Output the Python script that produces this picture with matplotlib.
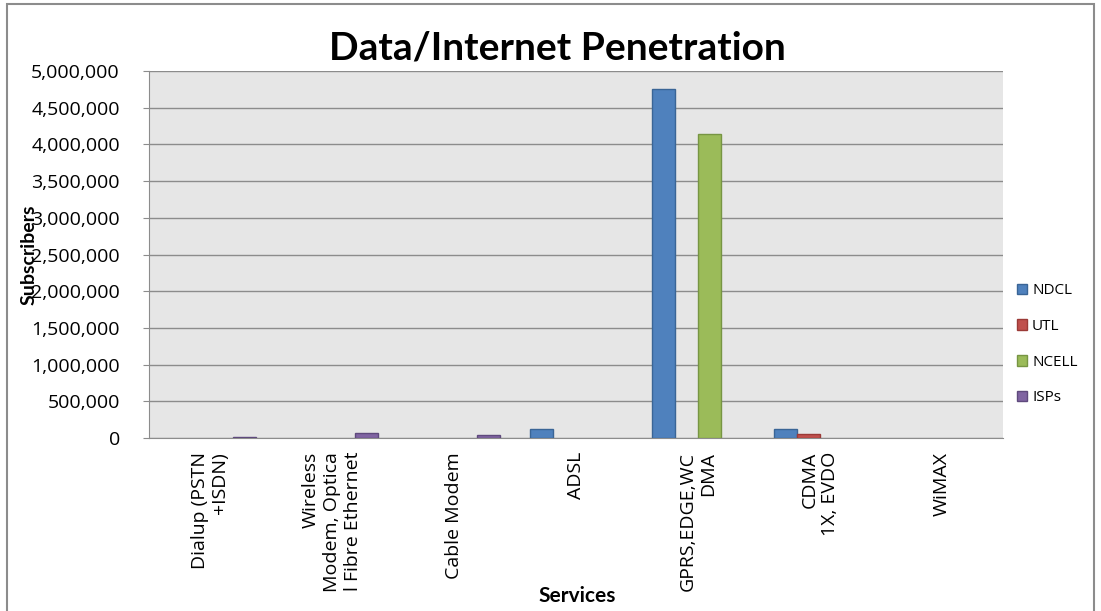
import matplotlib
matplotlib.use("Agg")
import matplotlib.pyplot as plt
import numpy as np
from matplotlib.ticker import FuncFormatter, MultipleLocator
from matplotlib.patches import Rectangle

categories = ["Dialup (PSTN\n+ISDN)", "Wireless\nModem, Optica\nl Fibre Ethernet", "Cable Modem",
              "ADSL", "GPRS,EDGE,WC\nDMA", "CDMA\n1X, EVDO", "WiMAX"]
series_names = ["NDCL", "UTL", "NCELL", "ISPs"]
ndcl = [0, 0, 0, 120000, 4755000, 120000, 0]
utl = [0, 0, 0, 0, 0, 50000, 0]
ncell = [0, 0, 0, 0, 4140000, 0, 0]
isps = [10000, 64000, 37000, 0, 0, 0, 0]
colors = ["#4F81BD", "#C0504D", "#9BBB59", "#8064A2"]
edges = ["#3A6596", "#9B3A37", "#779543", "#5F4A7D"]

plt.rcParams['font.family'] = ['Lato', 'DejaVu Sans']
fig = plt.figure(figsize=(11.01, 6.11), dpi=100)
fig.patches.append(Rectangle((0.006, -0.01), 0.988, 1.003, transform=fig.transFigure,
                             fill=False, edgecolor="#8c8c8c", linewidth=1.5))
ax = fig.add_axes([0.1353, 0.2831, 0.7757, 0.6007])
ax.set_facecolor("#e6e6e6")

x = np.arange(len(categories))
w = 0.187
data = [ndcl, utl, ncell, isps]
for i, (vals, name) in enumerate(zip(data, series_names)):
    v = np.array(vals, dtype=float)
    v[v == 0] = np.nan
    ax.bar(x + (i - 1.5) * w, v, width=w, color=colors[i], edgecolor=edges[i],
           linewidth=1, label=name, zorder=3)

ax.set_xlim(-0.5, len(categories) - 0.5)
ax.set_ylim(0, 5000000)
ax.yaxis.set_major_locator(MultipleLocator(500000))
ax.yaxis.set_major_formatter(FuncFormatter(lambda v, p: f"{int(v):,}"))
ax.grid(axis='y', color="#8c8c8c", linewidth=1, zorder=0)
ax.set_xticks(x)
ax.set_xticklabels(categories, rotation=90, ha='center', va='top', multialignment='right',
                   fontsize=14, family=['Open Sans', 'DejaVu Sans'])
ax.tick_params(axis='x', length=0, pad=10)
ax.tick_params(axis='y', labelsize=14, length=4, color="#8c8c8c", pad=17)
for lab in ax.get_yticklabels():
    lab.set_family(['Open Sans', 'DejaVu Sans'])
for s in ax.spines.values():
    s.set_color("#8c8c8c")
ax.spines['top'].set_visible(False)
ax.spines['right'].set_visible(False)

fig.text(0.506, 0.921, "Data/Internet Penetration", ha='center', va='center',
         fontsize=28, fontweight='bold')
fig.text(0.026, 0.583, "Subscribers", rotation=90, ha='center', va='center',
         fontsize=14, fontweight='bold')
fig.text(0.524, 0.024, "Services", ha='center', va='center', fontsize=15, fontweight='bold')

leg = ax.legend(loc='center left', bbox_to_anchor=(1.0, 0.255), frameon=False,
                prop={'family': ['Open Sans', 'DejaVu Sans'], 'size': 11},
                labelspacing=1.35, handlelength=0.7, handleheight=0.7, handletextpad=0.3)

fig.savefig("out.png", dpi=100)
